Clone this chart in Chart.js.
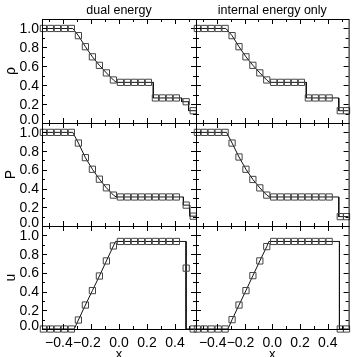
<!DOCTYPE html>
<html>
<head>
<meta charset="utf-8">
<script src="https://cdn.jsdelivr.net/npm/chart.js@4/dist/chart.umd.min.js"></script>
<style>
  html, body { margin: 0; padding: 0; background: #fff; }
  #wrap { position: relative; width: 354px; height: 357px; overflow: hidden; }
  #wrap canvas { position: absolute; left: 0; top: 0; }
</style>
</head>
<body>
<div id="wrap"></div>
<script>
// axis ticks and labels
const xTicks = [-0.4, -0.2, 0.0, 0.2, 0.4];
const xMinor = [-0.5, -0.3, -0.1, 0.1, 0.3, 0.5];
const yTicks = [0.0, 0.2, 0.4, 0.6, 0.8, 1.0];
const yMinor = [0.1, 0.3, 0.5, 0.7, 0.9];
const columnTitles = ["dual energy", "internal energy only"];
const rowNames = ["ρ", "P", "u"];

// symbol positions (x)
const symXDual = [-0.54, -0.49, -0.44, -0.39, -0.34, -0.29, -0.24, -0.19, -0.14, -0.09, -0.04, 0.01, 0.06, 0.11, 0.16, 0.21, 0.26, 0.31, 0.36, 0.41, 0.48, 0.53];
const symXInt  = [-0.54, -0.49, -0.44, -0.39, -0.34, -0.29, -0.24, -0.19, -0.14, -0.09, -0.04, 0.01, 0.06, 0.11, 0.16, 0.21, 0.26, 0.31, 0.36, 0.41, 0.49, 0.535];

// symbol values - dual energy
const rhoSymDual = [1, 1, 1, 1, 1, 0.924, 0.807, 0.70, 0.61, 0.53, 0.455, 0.43, 0.43, 0.43, 0.43, 0.43, 0.265, 0.265, 0.265, 0.265, 0.225, 0.13];
const pSymDual   = [1, 1, 1, 1, 1, 0.886, 0.73, 0.606, 0.50, 0.408, 0.33, 0.31, 0.31, 0.31, 0.31, 0.31, 0.31, 0.31, 0.31, 0.31, 0.223, 0.105];
const uSymDual   = [0, 0, 0, 0, 0, 0.096, 0.256, 0.41, 0.566, 0.727, 0.887, 0.935, 0.935, 0.935, 0.935, 0.935, 0.935, 0.935, 0.935, 0.935, 0.65, 0];

// symbol values - internal energy only
const rhoSymInt = [1, 1, 1, 1, 1, 0.924, 0.807, 0.70, 0.61, 0.53, 0.455, 0.43, 0.43, 0.43, 0.43, 0.43, 0.265, 0.265, 0.265, 0.265, 0.13, 0.13];
const pSymInt   = [1, 1, 1, 1, 1, 0.886, 0.737, 0.606, 0.497, 0.407, 0.33, 0.31, 0.31, 0.31, 0.31, 0.31, 0.31, 0.31, 0.31, 0.31, 0.1, 0.1];
const uSymInt   = [0, 0, 0, 0, 0, 0.10, 0.256, 0.41, 0.57, 0.727, 0.88, 0.935, 0.935, 0.935, 0.935, 0.935, 0.935, 0.935, 0.935, 0.935, 0, 0];

// solid line vertices - dual energy
const rhoLineXDual = [-0.55, -0.33, -0.29, -0.24, -0.19, -0.14, -0.09, -0.04, -0.02, 0.245, 0.245, 0.448, 0.448, 0.497, 0.497, 0.55];
const rhoLineDual  = [1, 1, 0.924, 0.807, 0.70, 0.61, 0.53, 0.455, 0.43, 0.43, 0.265, 0.265, 0.225, 0.225, 0.13, 0.13];
const pLineXDual   = [-0.55, -0.33, -0.29, -0.24, -0.19, -0.14, -0.09, -0.04, -0.02, 0.46, 0.46, 0.505, 0.505, 0.55];
const pLineDual    = [1, 1, 0.886, 0.73, 0.606, 0.50, 0.408, 0.33, 0.31, 0.31, 0.223, 0.223, 0.105, 0.105];
const uLineXDual   = [-0.55, -0.32, -0.29, -0.24, -0.19, -0.14, -0.09, -0.04, -0.025, 0.479, 0.479, 0.55];
const uLineDual    = [0, 0, 0.096, 0.256, 0.41, 0.566, 0.727, 0.887, 0.935, 0.935, 0, 0];

// solid line vertices - internal energy only
const rhoLineXInt = [-0.55, -0.335, -0.29, -0.24, -0.19, -0.14, -0.09, -0.04, -0.02, 0.245, 0.245, 0.479, 0.479, 0.55];
const rhoLineInt  = [1, 1, 0.924, 0.807, 0.70, 0.61, 0.53, 0.455, 0.43, 0.43, 0.265, 0.265, 0.13, 0.13];
const pLineXInt   = [-0.55, -0.33, -0.29, -0.24, -0.19, -0.14, -0.09, -0.04, -0.02, 0.479, 0.479, 0.55];
const pLineInt    = [1, 1, 0.886, 0.737, 0.606, 0.497, 0.407, 0.33, 0.31, 0.31, 0.1, 0.1];
const uLineXInt   = [-0.55, -0.32, -0.29, -0.24, -0.19, -0.14, -0.09, -0.04, -0.025, 0.484, 0.484, 0.55];
const uLineInt    = [0, 0, 0.10, 0.256, 0.41, 0.57, 0.727, 0.88, 0.935, 0.935, 0, 0];

// panel edges in pixels
const colEdges = [[42, 196], [196, 350]];
const rowEdges = [[19, 123], [123, 226], [226, 329]];

const W = 354, H = 357;
const FONT = '"Liberation Sans", Arial, Helvetica, sans-serif';
const wrap = document.getElementById("wrap");

const fmt = v => (v < 0 ? "\u2212" : "") + Math.abs(v).toFixed(1);

// frame, inward ticks and labels (IDL style)
const framePlugin = {
  id: "frame",
  afterDraw(chart, args, o) {
    const { ctx, chartArea: a, scales: { x, y } } = chart;
    ctx.save();
    ctx.strokeStyle = "#000";
    ctx.lineWidth = 1;
    ctx.strokeRect(a.left + 0.5, a.top + 0.5, a.right - a.left, a.bottom - a.top);

    ctx.beginPath();
    const tx = (v, len) => {
      const px = Math.round(x.getPixelForValue(v)) + 0.5;
      ctx.moveTo(px, a.bottom); ctx.lineTo(px, a.bottom - len);
      ctx.moveTo(px, a.top); ctx.lineTo(px, a.top + len);
    };
    const ty = (v, len) => {
      const py = Math.round(y.getPixelForValue(v)) + 0.5;
      ctx.moveTo(a.left, py); ctx.lineTo(a.left + len, py);
      ctx.moveTo(a.right, py); ctx.lineTo(a.right - len, py);
    };
    xTicks.forEach(v => tx(v, 5));
    xMinor.forEach(v => tx(v, 3));
    yTicks.forEach(v => ty(v, 5));
    yMinor.forEach(v => ty(v, 3));
    ctx.stroke();

    ctx.fillStyle = "#000";
    if (o.col === 0) {
      ctx.font = "14px " + FONT;
      ctx.textAlign = "right";
      ctx.textBaseline = "alphabetic";
      yTicks.forEach(v => {
        const py = y.getPixelForValue(v);
        ctx.fillText(v.toFixed(1), a.left - 3, Math.min(py + 4.5, a.bottom + 1));
      });
      ctx.save();
      ctx.font = "14px " + FONT;
      ctx.translate(11, (a.top + a.bottom) / 2);
      ctx.rotate(-Math.PI / 2);
      ctx.textAlign = "center";
      ctx.textBaseline = "middle";
      ctx.fillText(rowNames[o.row], 0, 0);
      ctx.restore();
    }
    if (o.row === 2) {
      ctx.font = "14px " + FONT;
      ctx.textAlign = "center";
      ctx.textBaseline = "alphabetic";
      const mw = ctx.measureText("\u2212").width;
      xTicks.forEach(v => {
        const px = x.getPixelForValue(v);
        ctx.fillText(fmt(v), v < 0 ? px - mw / 2 : px, 347);
      });
      ctx.font = "13px " + FONT;
      ctx.fillText("x", (a.left + a.right) / 2, 358);
    }
    if (o.row === 0) {
      ctx.font = "12.5px " + FONT;
      ctx.textAlign = "center";
      ctx.textBaseline = "alphabetic";
      ctx.fillText(columnTitles[o.col], (a.left + a.right) / 2, 14);
    }
    ctx.restore();
  }
};

function makePanel(col, row, lineX, lineY, symX, symY) {
  const cv = document.createElement("canvas");
  cv.width = W; cv.height = H;
  wrap.appendChild(cv);
  const [l, r] = colEdges[col];
  const [t, b] = rowEdges[row];
  new Chart(cv, {
    type: "scatter",
    data: {
      datasets: [
        {
          data: lineX.map((x, i) => ({ x, y: lineY[i] })),
          showLine: true,
          borderColor: "#111",
          borderWidth: 1,
          pointRadius: 0,
          tension: 0,
          order: 2
        },
        {
          data: symX.map((x, i) => ({ x, y: symY[i] })),
          pointStyle: "rect",
          pointRadius: 4.4,
          borderColor: "#444",
          borderWidth: 1,
          backgroundColor: "rgba(0,0,0,0)",
          clip: false,
          order: 1
        }
      ]
    },
    options: {
      responsive: false,
      animation: false,
      events: [],
      layout: { padding: { left: l, right: W - r, top: t, bottom: H - b } },
      scales: {
        x: { type: "linear", min: -0.55, max: 0.55, display: false },
        y: { type: "linear", min: 0, max: 1.1, display: false }
      },
      plugins: {
        legend: { display: false },
        tooltip: { enabled: false },
        frame: { col, row }
      }
    },
    plugins: [framePlugin]
  });
}

makePanel(0, 0, rhoLineXDual, rhoLineDual, symXDual, rhoSymDual);
makePanel(0, 1, pLineXDual, pLineDual, symXDual, pSymDual);
makePanel(0, 2, uLineXDual, uLineDual, symXDual, uSymDual);
makePanel(1, 0, rhoLineXInt, rhoLineInt, symXInt, rhoSymInt);
makePanel(1, 1, pLineXInt, pLineInt, symXInt, pSymInt);
makePanel(1, 2, uLineXInt, uLineInt, symXInt, uSymInt);
</script>
</body>
</html>
